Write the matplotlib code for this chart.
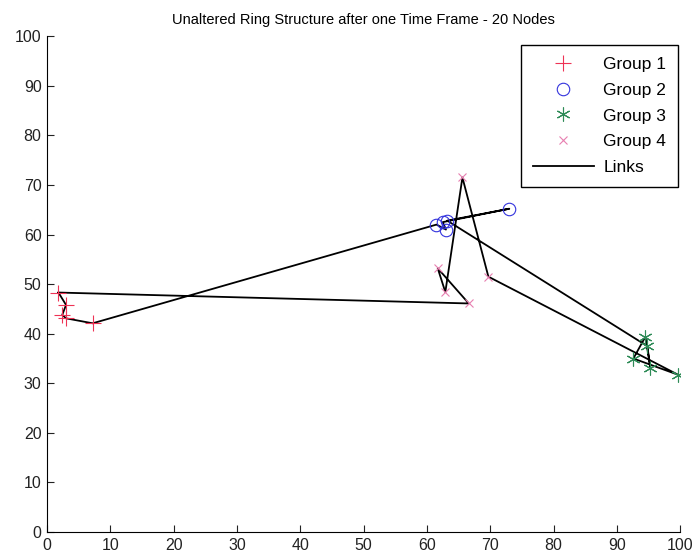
import numpy as np
import matplotlib
matplotlib.use("Agg")
from matplotlib import pyplot as plt

plt.rcParams['font.family'] = ['Liberation Sans', 'DejaVu Sans']

# node positions per group
g1_x = [1.8, 3.0, 2.4, 3.0, 7.2]
g1_y = [48.3, 45.8, 43.8, 43.1, 42.1]
g2_x = [63.2, 73.0, 62.5, 63.0, 61.5]
g2_y = [62.8, 65.2, 62.5, 61.0, 62.0]
g3_x = [99.7, 92.6, 94.5, 95.3, 94.8]
g3_y = [31.7, 35.0, 39.4, 33.0, 37.5]
g4_x = [66.6, 61.7, 62.9, 65.6, 69.7]
g4_y = [46.1, 53.2, 48.4, 71.5, 51.5]

# ring order: g1[0] -> group 4 -> group 3 -> group 2 -> g1[4] .. g1[1] -> back to g1[0]
ring_x = [g1_x[0]] + g4_x + g3_x + g2_x + g1_x[::-1]
ring_y = [g1_y[0]] + g4_y + g3_y + g2_y + g1_y[::-1]

fig = plt.figure(figsize=(6.92, 5.56), dpi=100)
ax = fig.add_axes([0.068, 0.043, 0.915, 0.892])

ax.plot(g1_x, g1_y, '+', color='#ee3355', ms=11, mew=0.8, label='Group 1', ls='none', zorder=3)
ax.plot(g2_x, g2_y, 'o', color='#3333dd', ms=9, mfc='none', mew=0.8, label='Group 2', ls='none', zorder=3)
ax.plot(g3_x, g3_y, marker=(6, 2, 0), color='#2e8b57', ms=10, mew=0.8, label='Group 3', ls='none', zorder=3)
ax.plot(g4_x, g4_y, 'x', color='#e87fb0', ms=6, mew=0.8, label='Group 4', ls='none', zorder=3)
ax.plot(ring_x, ring_y, '-', color='black', lw=1.3, label='Links', zorder=2)

ax.set_xlim(0, 100)
ax.set_ylim(0, 100)
ax.set_xticks(np.arange(0, 101, 10))
ax.set_yticks(np.arange(0, 101, 10))
ax.spines['top'].set_visible(False)
ax.spines['right'].set_visible(False)
ax.tick_params(direction='in', length=5, labelsize=11.5, colors='#222222', pad=4)
ax.set_title('Unaltered Ring Structure after one Time Frame - 20 Nodes', fontsize=10.5, pad=9)

leg = ax.legend(loc='upper right', bbox_to_anchor=(0.997, 0.982), borderaxespad=0,
                fontsize=12.5, handlelength=3.5, labelspacing=0.6, fancybox=False,
                framealpha=1, edgecolor='black', borderpad=0.7, handletextpad=0.55)
leg.get_frame().set_linewidth(1.0)

fig.savefig('out.png', dpi=100)
